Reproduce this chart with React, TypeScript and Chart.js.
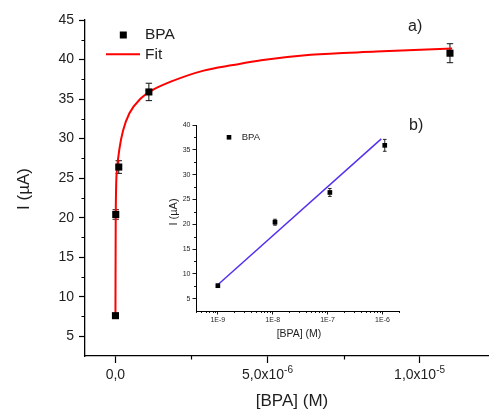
import React, { useEffect, useRef } from 'react';
import { Chart, registerables } from 'chart.js';

Chart.register(...registerables);

// ---- Main panel data ----
const concentrations = [1e-9, 1.1e-8, 1.1e-7, 1.1e-6, 1.1e-5];
const currents = [7.6, 20.4, 26.4, 35.9, 40.8];
const currentErrors = [0.3, 0.6, 0.8, 1.1, 1.2];

const fitConc = [1e-9, 1e-8, 5e-8, 1.4e-7, 2.5e-7, 4.6e-7, 8.4e-7, 1.2e-6, 1.82e-6, 2.9e-6, 3.87e-6, 4.79e-6, 6.42e-6, 8.58e-6, 1.107e-5];
const fitCurrent = [7.6, 20.2, 26.0, 28.9, 31.0, 33.2, 35.1, 36.1, 37.2, 38.6, 39.3, 39.9, 40.6, 41.0, 41.4];

const mainYTicks = [5, 10, 15, 20, 25, 30, 35, 40, 45];
const mainYMinor = [7.5, 12.5, 17.5, 22.5, 27.5, 32.5, 37.5, 42.5];
const mainXTicks = [0, 5e-6, 1e-5];
const mainXLabelBase = ['0,0', '5,0x10', '1,0x10'];
const mainXLabelSup = ['', '-6', '-5'];
const mainXMinor = [2.5e-6, 7.5e-6];

// ---- Inset data ----
const insetConc = [1e-9, 1.1e-8, 1.1e-7, 1.1e-6];
const insetCurrents = [7.6, 20.4, 26.4, 35.9];
const insetErrors = [0.3, 0.6, 0.8, 1.2];
const linFitConc = [1e-9, 9.5e-7];
const linFitCurrent = [7.8, 37.2];
const insetYTicks = [5, 10, 15, 20, 25, 30, 35, 40];
const insetYMinor = [7.5, 12.5, 17.5, 22.5, 27.5, 32.5, 37.5];
const insetXTicks = [1e-9, 1e-8, 1e-7, 1e-6];
const insetXLabels = ['1E-9', '1E-8', '1E-7', '1E-6'];
const insetDecades = [1e-10, 1e-9, 1e-8, 1e-7, 1e-6];
const insetMinorMult = [2, 3, 4, 5, 6, 7, 8, 9];

const FONT = "'Liberation Sans', Arial, sans-serif";
const TXT = '#1e1e1e';

function errorBars(chart: any, xs: number[], ys: number[], es: number[], cap: number, width: number) {
  const ctx = chart.ctx;
  const xS = chart.scales.x;
  const yS = chart.scales.y;
  ctx.save();
  ctx.strokeStyle = '#111';
  ctx.lineWidth = width;
  for (let i = 0; i < xs.length; i++) {
    const px = xS.getPixelForValue(xs[i]);
    const pt = yS.getPixelForValue(ys[i] + es[i]);
    const pb = yS.getPixelForValue(ys[i] - es[i]);
    ctx.beginPath();
    ctx.moveTo(px, pt);
    ctx.lineTo(px, pb);
    ctx.moveTo(px - cap, pt);
    ctx.lineTo(px + cap, pt);
    ctx.moveTo(px - cap, pb);
    ctx.lineTo(px + cap, pb);
    ctx.stroke();
  }
  ctx.restore();
}

const mainPlugin = {
  id: 'mainDecor',
  beforeDatasetsDraw(chart: any) {
    errorBars(chart, concentrations, currents, currentErrors, 3.2, 1);
  },
  afterDraw(chart: any) {
    const ctx = chart.ctx;
    const xS = chart.scales.x;
    const yS = chart.scales.y;
    const area = chart.chartArea;
    ctx.save();
    // minor ticks
    ctx.strokeStyle = '#000';
    ctx.lineWidth = 1.2;
    ctx.beginPath();
    mainXMinor.forEach((v) => {
      const px = Math.round(xS.getPixelForValue(v)) + 0.5;
      ctx.moveTo(px, area.bottom);
      ctx.lineTo(px, area.bottom + 3.5);
    });
    mainYMinor.forEach((v) => {
      const py = Math.round(yS.getPixelForValue(v)) + 0.5;
      ctx.moveTo(area.left, py);
      ctx.lineTo(area.left - 3.5, py);
    });
    ctx.stroke();

    // x tick labels with superscript
    ctx.fillStyle = TXT;
    ctx.textBaseline = 'middle';
    ctx.textAlign = 'left';
    mainXTicks.forEach((v, i) => {
      const px = xS.getPixelForValue(v);
      ctx.font = `14px ${FONT}`;
      const w1 = ctx.measureText(mainXLabelBase[i]).width;
      ctx.font = `10px ${FONT}`;
      const w2 = mainXLabelSup[i] ? ctx.measureText(mainXLabelSup[i]).width : 0;
      const start = px - (w1 + w2) / 2;
      ctx.font = `14px ${FONT}`;
      ctx.fillText(mainXLabelBase[i], start, 375);
      if (mainXLabelSup[i]) {
        ctx.font = `10px ${FONT}`;
        ctx.fillText(mainXLabelSup[i], start + w1, 370.5);
      }
    });

    // axis titles
    ctx.font = `17px ${FONT}`;
    ctx.textAlign = 'center';
    ctx.fillText('[BPA] (M)', 292, 401);
    ctx.save();
    ctx.translate(24, 189);
    ctx.rotate(-Math.PI / 2);
    ctx.fillText('I (µA)', 0, 0);
    ctx.restore();

    // legend
    ctx.fillStyle = '#000';
    ctx.fillRect(123.3 - 3.5, 35 - 3.5, 7, 7);
    ctx.strokeStyle = '#ff0000';
    ctx.lineWidth = 2;
    ctx.beginPath();
    ctx.moveTo(106, 54.3);
    ctx.lineTo(140, 54.3);
    ctx.stroke();
    ctx.fillStyle = TXT;
    ctx.font = `15.5px ${FONT}`;
    ctx.textAlign = 'left';
    ctx.fillText('BPA', 145, 35);
    ctx.fillText('Fit', 145, 54.5);

    // panel labels
    ctx.font = `16px ${FONT}`;
    ctx.fillText('a)', 408, 27);
    ctx.fillText('b)', 409, 126);
    ctx.restore();
  },
};

const insetPlugin = {
  id: 'insetDecor',
  beforeDatasetsDraw(chart: any) {
    errorBars(chart, insetConc, insetCurrents, insetErrors, 1.8, 0.9);
  },
  afterDraw(chart: any) {
    const ctx = chart.ctx;
    const xS = chart.scales.x;
    const yS = chart.scales.y;
    const area = chart.chartArea;
    ctx.save();
    ctx.strokeStyle = '#000';
    ctx.lineWidth = 0.9;
    ctx.beginPath();
    insetDecades.forEach((d) => {
      insetMinorMult.forEach((m) => {
        const v = d * m;
        if (v < xS.min || v > xS.max) return;
        const px = Math.round(xS.getPixelForValue(v)) + 0.5;
        ctx.moveTo(px, area.bottom);
        ctx.lineTo(px, area.bottom + 2);
      });
    });
    insetYMinor.forEach((v) => {
      const py = Math.round(yS.getPixelForValue(v)) + 0.5;
      ctx.moveTo(area.left, py);
      ctx.lineTo(area.left - 2, py);
    });
    ctx.stroke();

    ctx.fillStyle = TXT;
    ctx.textBaseline = 'middle';
    ctx.textAlign = 'center';
    ctx.font = `10.5px ${FONT}`;
    ctx.fillText('[BPA] (M)', 299 - 160, 334 - 110);
    ctx.save();
    ctx.translate(174 - 160, 212 - 110);
    ctx.rotate(-Math.PI / 2);
    ctx.font = `11px ${FONT}`;
    ctx.fillText('I (µA)', 0, 0);
    ctx.restore();

    // legend
    ctx.fillStyle = '#000';
    ctx.fillRect(229 - 160 - 2.3, 137.3 - 110 - 2.3, 4.6, 4.6);
    ctx.fillStyle = TXT;
    ctx.font = `9.5px ${FONT}`;
    ctx.textAlign = 'left';
    ctx.fillText('BPA', 241.7 - 160, 137.5 - 110);
    ctx.restore();
  },
};

export default function App() {
  const mainRef = useRef<HTMLCanvasElement>(null);
  const insetRef = useRef<HTMLCanvasElement>(null);

  useEffect(() => {
    if (!mainRef.current || !insetRef.current) return;
    const axisCommon = {
      grid: {
        display: true,
        drawOnChartArea: false,
        drawTicks: true,
        tickColor: '#000',
        tickWidth: 1.2,
      },
      border: { display: true, color: '#000', width: 1.3 },
    };

    const main = new Chart(mainRef.current, {
      type: 'scatter',
      data: {
        datasets: [
          {
            label: 'BPA',
            data: concentrations.map((x, i) => ({ x, y: currents[i] })),
            pointStyle: 'rect',
            pointRadius: 5,
            backgroundColor: '#000',
            borderColor: '#000',
            borderWidth: 0,
            showLine: false,
          },
          {
            label: 'Fit',
            data: fitConc.map((x, i) => ({ x, y: fitCurrent[i] })),
            showLine: true,
            pointRadius: 0,
            borderColor: '#ff0000',
            borderWidth: 2,
            cubicInterpolationMode: 'monotone',
            fill: false,
          },
        ],
      },
      options: {
        animation: false,
        responsive: false,
        devicePixelRatio: 1,
        layout: { padding: { left: 0, right: 0, top: 20, bottom: 0 } },
        plugins: { legend: { display: false }, tooltip: { enabled: false } },
        scales: {
          x: {
            type: 'linear',
            min: -1e-6,
            max: 1.225e-5,
            afterBuildTicks: (s: any) => {
              s.ticks = mainXTicks.map((value) => ({ value }));
            },
            afterFit: (s: any) => {
              s.height = 54;
            },
            ticks: { display: false },
            grid: { ...axisCommon.grid, tickLength: 7 },
            border: axisCommon.border,
          },
          y: {
            type: 'linear',
            min: 2.5,
            max: 45,
            afterBuildTicks: (s: any) => {
              s.ticks = mainYTicks.map((value) => ({ value }));
            },
            afterFit: (s: any) => {
              s.width = 85;
            },
            ticks: {
              font: { family: FONT, size: 14 },
              color: TXT,
              padding: 5,
              callback: (v: any) => String(v),
            },
            grid: { ...axisCommon.grid, tickLength: 6 },
            border: axisCommon.border,
          },
        },
      },
      plugins: [mainPlugin],
    } as any);

    const inset = new Chart(insetRef.current, {
      type: 'scatter',
      data: {
        datasets: [
          {
            label: 'BPA',
            data: insetConc.map((x, i) => ({ x, y: insetCurrents[i] })),
            pointStyle: 'rect',
            pointRadius: 3.3,
            backgroundColor: '#000',
            borderColor: '#000',
            borderWidth: 0,
            showLine: false,
          },
          {
            label: 'Linear fit',
            data: linFitConc.map((x, i) => ({ x, y: linFitCurrent[i] })),
            showLine: true,
            pointRadius: 0,
            borderColor: '#5530ee',
            borderWidth: 1.5,
            fill: false,
          },
        ],
      },
      options: {
        animation: false,
        responsive: false,
        devicePixelRatio: 1,
        layout: { padding: { left: 0, right: 6, top: 15, bottom: 0 } },
        plugins: { legend: { display: false }, tooltip: { enabled: false } },
        scales: {
          x: {
            type: 'logarithmic',
            min: 4e-10,
            max: 2e-6,
            afterBuildTicks: (s: any) => {
              s.ticks = insetXTicks.map((value) => ({ value }));
            },
            afterFit: (s: any) => {
              s.height = 34;
            },
            ticks: {
              font: { family: FONT, size: 7 },
              color: TXT,
              padding: 1,
              maxRotation: 0,
              autoSkip: false,
              callback: (v: any) => {
                const i = insetXTicks.findIndex((t) => Math.abs(t - v) / t < 1e-6);
                return i >= 0 ? insetXLabels[i] : '';
              },
            },
            grid: { ...axisCommon.grid, tickLength: 3.5, tickWidth: 0.9 },
            border: { display: true, color: '#000', width: 1 },
          },
          y: {
            type: 'linear',
            min: 2.5,
            max: 40,
            afterBuildTicks: (s: any) => {
              s.ticks = insetYTicks.map((value) => ({ value }));
            },
            afterFit: (s: any) => {
              s.width = 36;
            },
            ticks: {
              font: { family: FONT, size: 7 },
              color: TXT,
              padding: 2,
              callback: (v: any) => String(v),
            },
            grid: { ...axisCommon.grid, tickLength: 3.5, tickWidth: 0.9 },
            border: { display: true, color: '#000', width: 1 },
          },
        },
      },
      plugins: [insetPlugin],
    } as any);

    return () => {
      main.destroy();
      inset.destroy();
    };
  }, []);

  return (
    <div style={{ position: 'fixed', left: 0, top: 0, width: 493, height: 410, background: '#fff' }}>
      <canvas
        ref={mainRef}
        width={493}
        height={410}
        style={{ position: 'absolute', left: 0, top: 0, width: 493, height: 410 }}
      />
      <canvas
        ref={insetRef}
        width={245}
        height={235}
        style={{ position: 'absolute', left: 160, top: 110, width: 245, height: 235 }}
      />
    </div>
  );
}
